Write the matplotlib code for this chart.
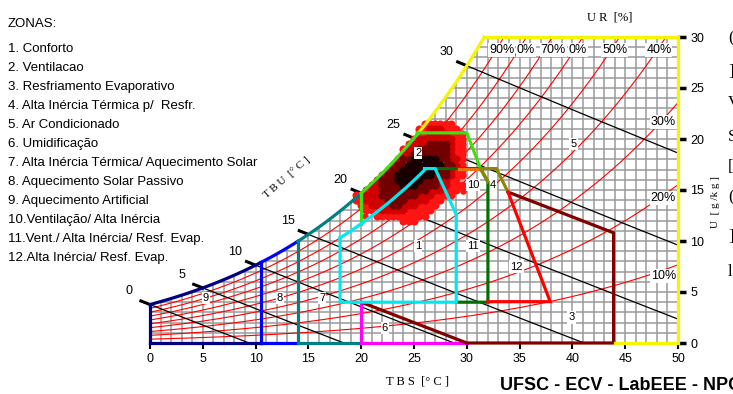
import numpy as np
import matplotlib
matplotlib.use("Agg")
import matplotlib.pyplot as plt
from matplotlib.patches import Polygon

plt.rcParams['font.family'] = ['Liberation Sans', 'DejaVu Sans']

# ---------------- data ----------------
zone_names = ["1. Conforto", "2. Ventilacao", "3. Resfriamento Evaporativo",
              "4. Alta Inércia Térmica p/  Resfr.", "5. Ar Condicionado",
              "6. Umidificação", "7. Alta Inércia Térmica/ Aquecimento Solar",
              "8. Aquecimento Solar Passivo", "9. Aquecimento Artificial",
              "10.Ventilação/ Alta Inércia", "11.Vent./ Alta Inércia/ Resf. Evap.",
              "12.Alta Inércia/ Resf. Evap."]

tbs_ticks = [0, 5, 10, 15, 20, 25, 30, 35, 40, 45, 50]
u_ticks = [0, 5, 10, 15, 20, 25, 30]
rh_values = [0.1, 0.2, 0.3, 0.4, 0.5, 0.6, 0.7, 0.8, 0.9]
tbu_values = [0, 5, 10, 15, 20, 25, 30]

# RH labels as they appear (some partly covered in the original)
rh_top_labels = ["90%", "0%", "70%", "0%", "50%", "40%"]
rh_top_T = [33.3, 35.6, 38.2, 40.5, 44.0, 48.2]
rh_side_labels = ["30%", "20%", "10%"]
rh_side_w = [21.7, 14.2, 6.6]

# zone number labels
zone_lbl = ["1", "2", "3", "4", "5", "6", "7", "8", "9", "10", "11", "12"]
zone_lbl_T = [25.4, 25.4, 39.9, 32.5, 40.1, 22.25, 16.3, 12.3, 5.3, 30.6, 30.6, 34.7]
zone_lbl_w = [9.5, 18.6, 2.5, 15.5, 19.5, 1.45, 4.4, 4.4, 4.4, 15.5, 9.5, 7.5]

# boundaries on the saturation curve (TBS)
sat_navy = (0.0, 10.5)
sat_blue = (10.5, 14.0)
sat_teal = (14.0, 20.0)
sat_lime = (20.0, 25.3)

# polylines of zones (TBS, U)
comfort_rh = 0.8
cyan_pts_T = [26.0, 27.0, 29.0, 29.0, 18.0, 18.0]
cyan_pts_w = [17.1, 17.1, 12.6, 4.0, 4.0]
lime_top_T = [25.3, 30.0, 31.3]
lime_top_w = [20.6, 20.6, 17.1]
dgreen_T = [27.0, 31.3, 32.0, 32.0, 29.0]
dgreen_w = [17.1, 17.1, 15.8, 4.0, 4.0]
orange_T = [29.3, 31.3]
orange_w = [17.1, 17.1]
olive_T = [32.0, 31.3, 32.8, 33.9]
olive_w = [15.8, 17.1, 17.1, 14.8]
red_T = [33.9, 37.9, 32.0]
red_w = [14.8, 4.05, 4.05]
maroon_T = [33.9, 43.9, 43.9, 30.0, 20.0]
maroon_w = [14.8, 10.8, 0.0, 0.0, 4.0]
magenta_T = [20.0, 20.0, 30.0]
magenta_w = [4.0, 0.0, 0.0]
yellow_right_T = [50.0, 50.0, 44.0]
yellow_right_w = [30.0, 0.0, 0.0]

# climate data density (rows of U, start TBS, levels every 0.5 C)
dens_w = [21.5, 21.0, 20.5, 20.0, 19.5, 19.0, 18.5, 18.0, 17.5, 17.0,
          16.5, 16.0, 15.5, 15.0, 14.5, 14.0, 13.5, 13.0, 12.5, 12.0]
dens_T0 = [26.0, 25.5, 25.5, 25.0, 24.5, 24.0, 24.0, 23.5, 23.0, 22.5,
           22.0, 21.5, 21.0, 20.5, 19.5, 19.5, 20.0, 20.5, 21.5, 24.0]
dens_lv = ["111111", "11222111", "112222111", "1222222211", "12223333211",
           "122333333211", "223333333211", "2334444433221", "23344444443321",
           "233444444433211", "2334444444333211", "2333444443332211",
           "223333444333322111", "122333333333222111", "1122233333332221111",
           "112222333322221110", "112222332221111", "1112222211111",
           "1111111111", "111"]
dens_colors = {1: "#ff1414", 2: "#d00000", 3: "#720000", 4: "#180000"}
# scattered isolated readings around the cloud
iso_T = [26.5, 27.9, 29.5, 29.6, 24.5, 20.4, 22.1, 28.9, 19.7]
iso_w = [21.2, 21.4, 15.3, 14.9, 12.1, 12.5, 12.9, 20.7, 13.9]

# ---------------- psychrometrics ----------------
P = 101.325
def psat(T):
    return 0.61078 * np.exp(17.27 * T / (T + 237.3))
def w_rh(T, rh):
    pv = rh * psat(T)
    return 622.0 * pv / (P - pv)
def wsat(T):
    return w_rh(T, 1.0)
def w_wb(T, Twb):
    Ws = wsat(Twb) / 1000.0
    return 1000.0 * ((2501 - 2.326 * Twb) * Ws - 1.006 * (T - Twb)) / (2501 + 1.86 * T - 4.186 * Twb)

Tf = np.linspace(0, 40, 4001)
T30 = float(np.interp(30.0, wsat(Tf), Tf))

# ---------------- figure ----------------
W, H = 733, 394
fig = plt.figure(figsize=(W / 100, H / 100), dpi=100)
ax = fig.add_axes([150 / W, 1 - 343 / H, 528 / W, 306 / H])
ax.set_xlim(0, 50)
ax.set_ylim(0, 30)
for s in ax.spines.values():
    s.set_visible(False)

# clip region under saturation curve
Tc = np.linspace(0, T30, 200)
clip_xy = np.column_stack([np.r_[0, Tc, 50, 50], np.r_[0, wsat(Tc), 30, 0]])
clip_poly = Polygon(clip_xy, closed=True, transform=ax.transData, fc='none', ec='none')
ax.add_patch(clip_poly)

# grid
for t in range(0, 51):
    ln, = ax.plot([t, t], [0, 30], color="#9a9a9a", lw=1.1, zorder=1)
    ln.set_clip_path(clip_poly)
for u in range(0, 31):
    ln, = ax.plot([0, 50], [u, u], color="#9a9a9a", lw=1.1, zorder=1)
    ln.set_clip_path(clip_poly)

# RH curves
Tr = np.linspace(0, 50, 600)
for rh in rh_values:
    ax.plot(Tr, w_rh(Tr, rh), color="red", lw=0.8, zorder=2)

# wet bulb lines
for twb in tbu_values:
    Tl = np.linspace(twb, 50, 300)
    ax.plot(Tl, w_wb(Tl, twb), color="black", lw=0.9, zorder=2.5)
    slope = (w_wb(twb + 0.01, twb) - wsat(twb)) / 0.01
    tt = np.array([twb - 1.0, twb + 0.1])
    ax.plot(tt, wsat(twb) + slope * (tt - twb), color="black", lw=2.2,
            zorder=2.6, clip_on=False, solid_capstyle='butt')
    ax.text(twb - 1.95, wsat(twb) + 1.3, str(twb), fontsize=9, ha='center',
            va='center', clip_on=False)

# climate data density
ax.scatter(iso_T, iso_w, s=22, color=dens_colors[1], linewidths=0, zorder=3)
for lvl in (1, 2, 3, 4):
    xs, ys = [], []
    for w, t0, row in zip(dens_w, dens_T0, dens_lv):
        for i, ch in enumerate(row):
            if int(ch) == lvl:
                xs.append(t0 + 0.5 * i)
                ys.append(w)
    ax.scatter(xs, ys, s=34, color=dens_colors[lvl], linewidths=0, zorder=3 + lvl * 0.01)

# RH labels
bb = dict(fc='white', ec='none', pad=0.6)
for lab, t in zip(rh_top_labels, rh_top_T):
    ax.text(t, 28.7, lab, fontsize=9, ha='center', va='center', bbox=bb, zorder=4)
for lab, w in zip(rh_side_labels, rh_side_w):
    ax.text(48.6, w, lab, fontsize=9, ha='center', va='center', bbox=bb, zorder=4)

# zone labels
for lab, t, w in zip(zone_lbl, zone_lbl_T, zone_lbl_w):
    ax.text(t, w, lab, fontsize=8, ha='center', va='center',
            bbox=dict(fc='white', ec='none', pad=0.8), zorder=4)

# zone lines
LW = 2.3
def line(T, w, c):
    ax.plot(T, w, color=c, lw=LW, zorder=5, clip_on=False, solid_joinstyle='miter')
def satseg(a, b, c):
    ts = np.linspace(a, b, 80)
    line(ts, wsat(ts), c)

# zone 9 navy
satseg(*sat_navy, "#000080")
line([0, 0], [0, wsat(0)], "#000080")
line([0, 10.5], [0, 0], "#000080")
# zone 8 blue
satseg(*sat_blue, "#0000ff")
line([10.5, 10.5], [0, wsat(10.5)], "#0000ff")
line([10.5, 14], [0, 0], "#0000ff")
# zone 7 teal
satseg(*sat_teal, "#008080")
line([14, 14], [0, wsat(14)], "#008080")
line([14, 20], [0, 0], "#008080")
# zone 6 magenta
line(magenta_T, magenta_w, "#ff00ff")
# zone 4 maroon
line(maroon_T, maroon_w, "#800000")
# zone 5 yellow
satseg(sat_lime[1], T30, "#f5f500")
line([T30, 50], [30, 30], "#f5f500")
line(yellow_right_T, yellow_right_w, "#f5f500")
# zone 2 lime
satseg(*sat_lime, "#40e010")
line([20, 20], [w_rh(20, comfort_rh), wsat(20)], "#40e010")
line(lime_top_T, lime_top_w, "#40e010")
# zone 10 dark green
line(dgreen_T, dgreen_w, "#007000")
line(orange_T, orange_w, "#f07010")
# zone 11 olive
line(olive_T, olive_w, "#8a8a00")
# zone 3 red
line(red_T, red_w, "#ff0000")
# zone 1 cyan
tc = np.linspace(18, 26, 60)
cT = np.r_[tc, cyan_pts_T]
cW = np.r_[w_rh(tc, comfort_rh), cyan_pts_w, w_rh(18.0, comfort_rh)]
line(cT, cW, "#00e8f0")

# axes ticks
ax.set_xticks(tbs_ticks)
ax.set_xticklabels([str(v) for v in tbs_ticks], fontsize=9)
ax.tick_params(axis='x', direction='out', length=4, width=1.5, pad=3)
ax.yaxis.tick_right()
ax.set_yticks(u_ticks)
ax.set_yticklabels([str(v) for v in u_ticks], fontsize=9)
ax.tick_params(axis='y', direction='out', length=6, width=2.5, pad=3)

# titles
serif = ['Liberation Serif', 'DejaVu Serif']
def ft(px, py, s, **kw):
    fig.text(px / W, 1 - py / H, s, **kw)
ft(610, 18, "U R  [%]", fontsize=9, family=serif, ha='center', va='center')
ft(287, 177, "T B U  [° C ]", fontsize=8, family=serif, ha='center', va='center', rotation=41)
ft(716, 202, "U  [ g /k g ]", fontsize=8, family=serif, ha='center', va='center', rotation=90)
ft(418, 381, "T B S  [° C ]", fontsize=9, family=serif, ha='center', va='center')
ft(500, 385, "UFSC - ECV - LabEEE - NPC", fontsize=13, fontweight='bold', ha='left', va='center')

# clipped fragments of a neighbouring text at the right edge
for py, ch in [(38, "("), (72, "]"), (103, "V"), (137, "S"), (167, "["), (197, "("), (237, "]"), (272, "l")]:
    ft(728, py, ch, fontsize=12, family=serif, ha='left', va='center')

# legend text
ft(8, 24, "ZONAS:", fontsize=9.5, ha='left', va='center')
for i, name in enumerate(zone_names):
    ft(8, 49 + 19.0 * i, name, fontsize=9.5, ha='left', va='center')

fig.savefig("out.png", dpi=100)
